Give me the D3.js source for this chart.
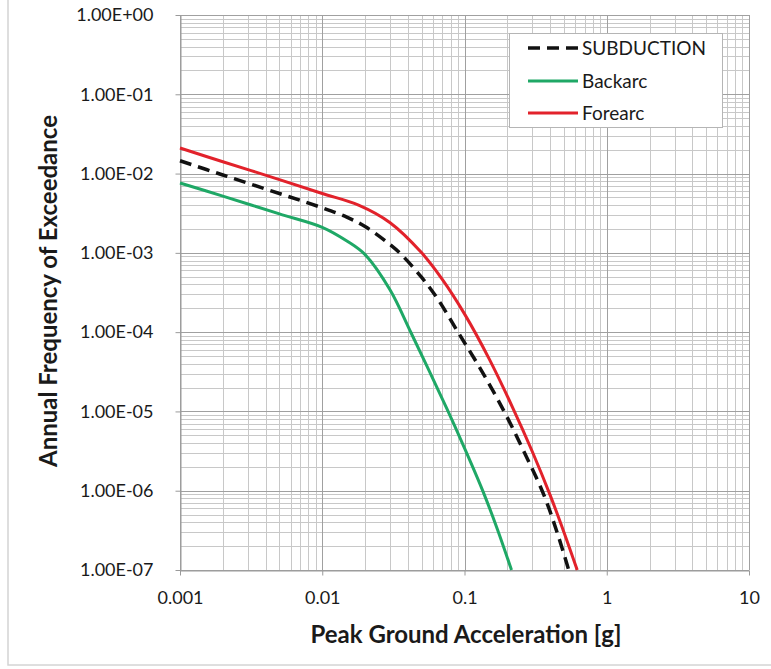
<!DOCTYPE html>
<html>
<head>
<meta charset="utf-8">
<script src="https://cdn.jsdelivr.net/npm/d3@7"></script>
<style>
body { margin: 0; background: #fff; }
text { font-family: Lato, "Open Sans", sans-serif; fill: #1a1a1a; }
</style>
</head>
<body>
<svg width="771" height="669"></svg>
<script>
// hazard curves: PGA [g] vs annual frequency
var pga_sub = [0.001, 0.002, 0.005, 0.01, 0.015, 0.02, 0.03, 0.036, 0.05, 0.065, 0.09, 0.13, 0.19, 0.26, 0.36, 0.45, 0.54];
var freq_sub = [0.0145, 0.0096, 0.0056, 0.0037, 0.0028, 0.00215, 0.00127, 9.5e-4, 4.9e-4, 2.6e-4, 1.0e-4, 3.4e-5, 1.0e-5, 3.2e-6, 9e-7, 2.9e-7, 1e-7];

var pga_back = [0.001, 0.002, 0.005, 0.01, 0.015, 0.02, 0.03, 0.042, 0.075, 0.1, 0.134, 0.17, 0.214];
var freq_back = [0.0076, 0.0052, 0.0031, 0.0021, 0.0014, 9.5e-4, 3.4e-4, 9.9e-5, 1.09e-5, 3.45e-6, 1.01e-6, 3.3e-7, 1e-7];

var pga_fore = [0.001, 0.002, 0.005, 0.01, 0.018, 0.03, 0.05, 0.07, 0.1, 0.15, 0.22, 0.3, 0.4, 0.5, 0.62];
var freq_fore = [0.021, 0.0141, 0.0084, 0.0056, 0.0040, 0.0024, 1.0e-3, 4.6e-4, 1.7e-4, 4.5e-5, 1.08e-5, 3.1e-6, 8.8e-7, 3.0e-7, 1e-7];

var xTicks = [0.001, 0.01, 0.1, 1, 10];
var xTickLabels = ["0.001", "0.01", "0.1", "1", "10"];
var yTicks = [1, 1e-1, 1e-2, 1e-3, 1e-4, 1e-5, 1e-6, 1e-7];
var yTickLabels = ["1.00E+00", "1.00E-01", "1.00E-02", "1.00E-03", "1.00E-04", "1.00E-05", "1.00E-06", "1.00E-07"];

var seriesNames = ["SUBDUCTION", "Backarc", "Forearc"];

var svg = d3.select("svg");

var pLeft = 180, pRight = 749, pTop = 15, pBottom = 570;

var x = d3.scaleLog().domain([0.001, 10]).range([pLeft, pRight]);
var y = d3.scaleLog().domain([1e-7, 1]).range([pBottom, pTop]);

// outer chart frame
svg.append("rect")
    .attr("x", 8).attr("y", -5)
    .attr("width", 800).attr("height", 670)
    .style("fill", "none")
    .style("stroke", "#d4d4d4")
    .style("stroke-width", 1.5);

//////////////////////
// grid lines
//////////////////////
var minorX = [], minorY = [];
for (var e = -3; e < 1; e++) {
    for (var m = 2; m < 10; m++) minorX.push(m * Math.pow(10, e));
}
for (var e = -7; e < 0; e++) {
    for (var m = 2; m < 10; m++) minorY.push(m * Math.pow(10, e));
}

var grid = svg.append("g");

grid.selectAll(".mx").data(minorX).enter().append("line")
    .attr("x1", function(d) { return Math.round(x(d)) + 0.5; })
    .attr("x2", function(d) { return Math.round(x(d)) + 0.5; })
    .attr("y1", pTop).attr("y2", pBottom)
    .style("stroke", "#c8c8c8");

grid.selectAll(".my").data(minorY).enter().append("line")
    .attr("y1", function(d) { return Math.round(y(d)) + 0.5; })
    .attr("y2", function(d) { return Math.round(y(d)) + 0.5; })
    .attr("x1", pLeft).attr("x2", pRight)
    .style("stroke", "#c8c8c8");

grid.selectAll(".Mx").data(xTicks).enter().append("line")
    .attr("x1", function(d) { return Math.round(x(d)) + 0.5; })
    .attr("x2", function(d) { return Math.round(x(d)) + 0.5; })
    .attr("y1", pTop).attr("y2", pBottom)
    .style("stroke", "#a0a0a0");

grid.selectAll(".My").data(yTicks).enter().append("line")
    .attr("y1", function(d) { return Math.round(y(d)) + 0.5; })
    .attr("y2", function(d) { return Math.round(y(d)) + 0.5; })
    .attr("x1", pLeft).attr("x2", pRight)
    .style("stroke", "#a0a0a0");

//////////////////////
// axes
//////////////////////
var xAxis = svg.append("g")
    .attr("transform", "translate(0," + (pBottom + 0.5) + ")")
    .call(d3.axisBottom(x).tickValues(xTicks)
        .tickFormat(function(d, i) { return xTickLabels[i]; })
        .tickSizeInner(5).tickSizeOuter(0).tickPadding(16));

var yAxis = svg.append("g")
    .attr("transform", "translate(" + (pLeft + 0.5) + ",0)")
    .call(d3.axisLeft(y).tickValues(yTicks)
        .tickFormat(function(d, i) { return yTickLabels[i]; })
        .tickSizeInner(5).tickSizeOuter(0).tickPadding(22));

[xAxis, yAxis].forEach(function(a) {
    a.select(".domain").style("stroke", "#9a9a9a");
    a.selectAll(".tick line").style("stroke", "#9a9a9a");
    a.selectAll(".tick text")
        .style("font-size", "18px")
        .style("font-family", "Lato, sans-serif")
        .style("fill", "#1a1a1a");
});

// axis titles
svg.append("text")
    .attr("x", 466)
    .attr("y", 643)
    .attr("text-anchor", "middle")
    .style("font-size", "24px")
    .style("font-weight", "bold")
    .text("Peak Ground Acceleration [g]");

svg.append("text")
    .attr("transform", "translate(57,291) rotate(-90)")
    .attr("text-anchor", "middle")
    .style("font-size", "24px")
    .style("font-weight", "bold")
    .text("Annual Frequency of Exceedance");

//////////////////////
// curves
//////////////////////
var line = d3.line()
    .x(function(d) { return x(d[0]); })
    .y(function(d) { return y(d[1]); })
    .curve(d3.curveCatmullRom.alpha(0.5));

var series = [
    { pga: pga_back, freq: freq_back, color: "#1fa866", dash: null },
    { pga: pga_sub, freq: freq_sub, color: "#111", dash: "12,7" },
    { pga: pga_fore, freq: freq_fore, color: "#e2222b", dash: null }
];

var plot = svg.append("g");
series.forEach(function(s) {
    var pts = s.pga.map(function(p, i) { return [p, s.freq[i]]; });
    plot.append("path")
        .datum(pts)
        .attr("d", line)
        .style("fill", "none")
        .style("stroke", s.color)
        .style("stroke-width", s.dash ? 3.5 : 3)
        .style("stroke-dasharray", s.dash);
});

//////////////////////
// legend
//////////////////////
var legend = svg.append("g");
legend.append("rect")
    .attr("x", 509.5).attr("y", 33.5)
    .attr("width", 213).attr("height", 94)
    .style("fill", "#fff")
    .style("stroke", "#b5b5b5");

var legendItems = [
    { name: seriesNames[0], color: "#111", dash: "12,7", w: 3.5 },
    { name: seriesNames[1], color: "#1fa866", dash: null, w: 3 },
    { name: seriesNames[2], color: "#e2222b", dash: null, w: 3 }
];
var legendY = [48, 81, 113];

legendItems.forEach(function(d, i) {
    legend.append("line")
        .attr("x1", 528).attr("x2", 578)
        .attr("y1", legendY[i]).attr("y2", legendY[i])
        .style("stroke", d.color)
        .style("stroke-width", d.w)
        .style("stroke-dasharray", d.dash);
    legend.append("text")
        .attr("x", 582)
        .attr("y", legendY[i] + 7)
        .style("font-size", "19px")
        .text(d.name);
});
</script>
</body>
</html>
